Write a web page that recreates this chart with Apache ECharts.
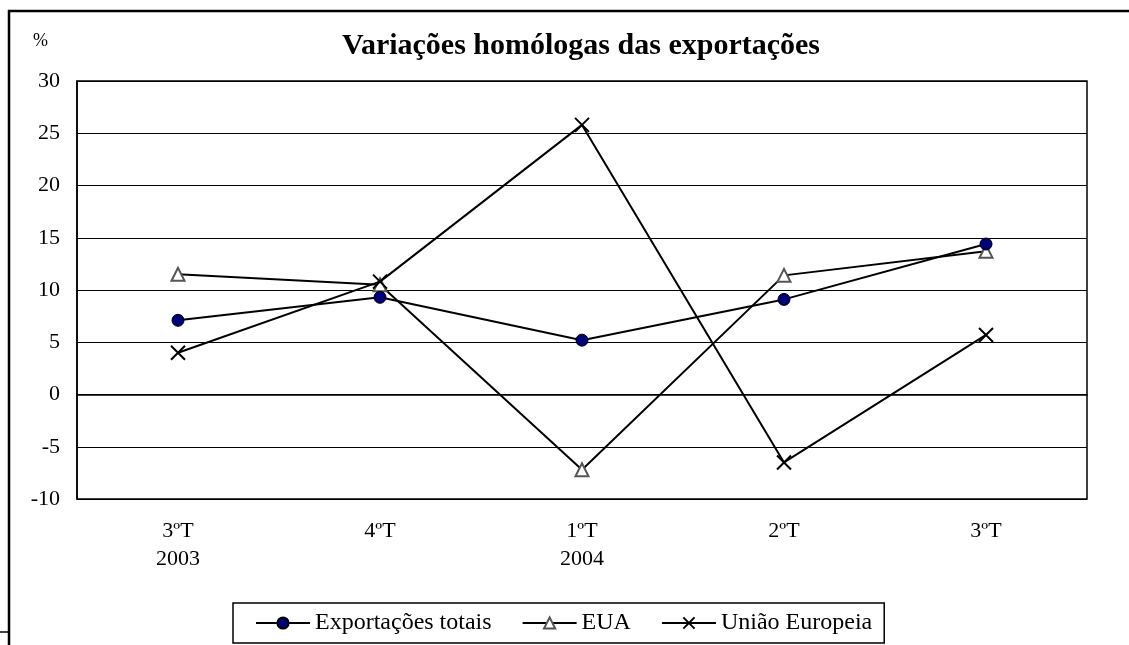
<!DOCTYPE html>
<html>
<head>
<meta charset="utf-8">
<script src="https://cdn.jsdelivr.net/npm/echarts@6/dist/echarts.min.js"></script>
<style>
  html, body { margin: 0; padding: 0; background: #fff; }
  #chart { width: 1129px; height: 645px; }
</style>
</head>
<body>
<div id="chart"></div>
<script>
var categories = ['3ºT\n2003', '4ºT', '1ºT\n2004', '2ºT', '3ºT'];
var totais = [7.1, 9.3, 5.2, 9.1, 14.4];
var eua = [11.5, 10.5, -7.2, 11.4, 13.7];
var ue = [4.0, 10.8, 25.8, -6.5, 5.7];
var yTicks = { min: -10, max: 30, interval: 5 };

var serif = '"Liberation Serif", "DejaVu Serif", serif';
var xMark = 'path://M0,0L10,10M10,0L0,10';

var myChart = echarts.init(document.getElementById('chart'));

var option = {
  backgroundColor: '#fff',
  animation: false,
  title: {
    text: 'Variações homólogas das exportações',
    left: 576,
    top: 26,
    textAlign: 'center',
    textStyle: { fontFamily: serif, fontSize: 30, fontWeight: 'bold', color: '#000' }
  },
  graphic: [
    { type: 'line', shape: { x1: 8, y1: 11, x2: 1129, y2: 11 }, style: { stroke: '#000', lineWidth: 2.5 } },
    { type: 'line', shape: { x1: 9, y1: 10, x2: 9, y2: 645 }, style: { stroke: '#000', lineWidth: 2.5 } },
    { type: 'line', shape: { x1: 0, y1: 632, x2: 9, y2: 632 }, style: { stroke: '#000', lineWidth: 1.5 } },
    { type: 'text', left: 33, top: 32, style: { text: '%', font: '18px ' + serif, fill: '#000' } }
  ],
  legend: {
    left: 233,
    top: 603,
    padding: [8, 12, 8, 22],
    itemGap: 30,
    itemWidth: 54,
    itemHeight: 14,
    borderColor: '#000',
    borderWidth: 1.5,
    borderRadius: 0,
    textStyle: { fontFamily: serif, fontSize: 24, color: '#000' },
    data: ['Exportações totais', 'EUA', 'União Europeia']
  },
  grid: {
    left: 77, top: 81, right: 42, bottom: 146,
    show: true, borderColor: '#000', borderWidth: 1.5
  },
  xAxis: {
    type: 'category',
    data: categories,
    boundaryGap: true,
    axisLine: { lineStyle: { color: '#000', width: 1.5 } },
    axisTick: { show: false },
    axisLabel: { margin: 18, fontFamily: serif, fontSize: 22, color: '#000', lineHeight: 28 }
  },
  yAxis: {
    type: 'value',
    min: yTicks.min,
    max: yTicks.max,
    interval: yTicks.interval,
    axisLine: { show: true, lineStyle: { color: '#000', width: 1.5 } },
    axisTick: { show: false },
    axisLabel: { margin: 17, fontFamily: serif, fontSize: 22, color: '#000' },
    splitLine: { lineStyle: { color: '#000', width: 1 } }
  },
  series: [
    {
      name: 'Exportações totais',
      type: 'line',
      data: totais,
      symbol: 'circle',
      symbolSize: 12,
      lineStyle: { color: '#000', width: 2 },
      itemStyle: { color: '#00007a', borderColor: '#000', borderWidth: 1 },
      z: 4
    },
    {
      name: 'EUA',
      type: 'line',
      data: eua,
      symbol: 'triangle',
      symbolSize: 13,
      lineStyle: { color: '#000', width: 2 },
      itemStyle: { color: '#fff', borderColor: '#555', borderWidth: 2 },
      z: 3
    },
    {
      name: 'União Europeia',
      type: 'line',
      data: ue,
      symbol: xMark,
      symbolSize: 14,
      lineStyle: { color: '#000', width: 2 },
      itemStyle: { color: 'none', borderColor: '#000', borderWidth: 2 },
      z: 5
    }
  ]
};

myChart.setOption(option);
</script>
</body>
</html>
